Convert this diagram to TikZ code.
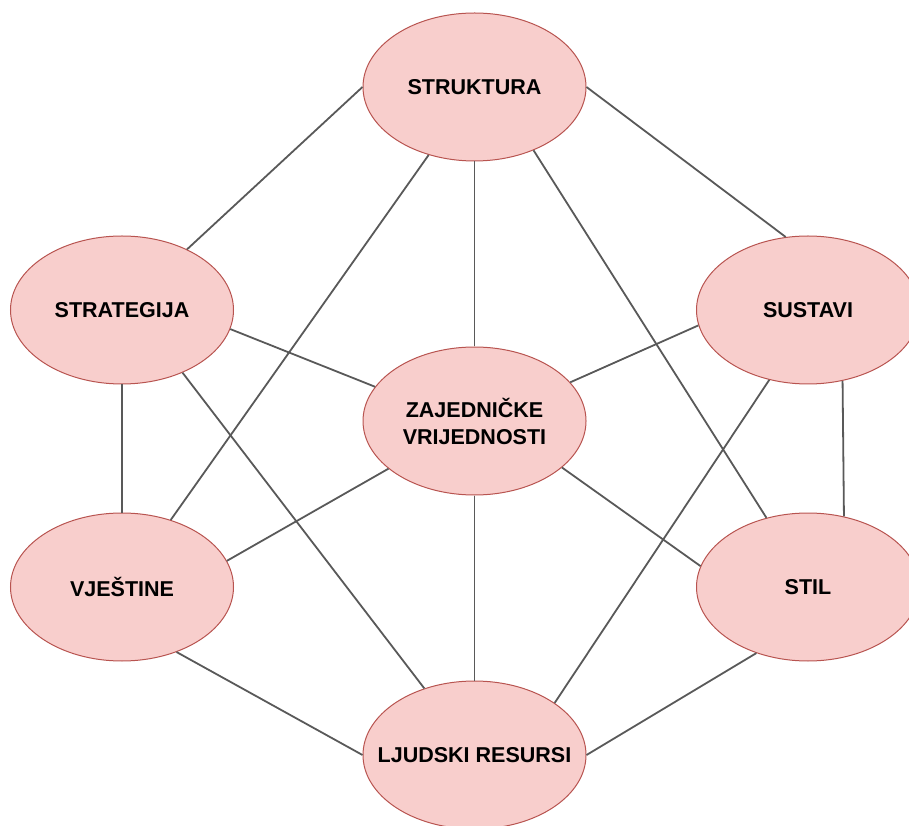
\documentclass[tikz,border=0pt]{standalone}
\usepackage{fontspec}
\setmainfont{Liberation Sans}
\usepackage{xcolor}
\usetikzlibrary{positioning}
\usetikzlibrary{shapes.geometric}
\definecolor{factorfill}{HTML}{F8CECC}
\definecolor{factorline}{HTML}{B85450}
\tikzset{
  factor/.style={ellipse, draw=factorline, fill=factorfill, line width=1pt,
    minimum width=223pt, minimum height=148pt, inner xsep=-50pt, inner ysep=0pt,
    align=center, font=\fontsize{21.5}{27}\selectfont\bfseries},
  link/.style={draw=black!65, line width=1.8pt}
}
\begin{document}
\begin{tikzpicture}[x=1pt,y=1pt,node distance=185pt]
    \useasboundingbox (0,0) rectangle (909,825);
    \node[factor] (zaj) at (474.5,404) {ZAJEDNIČKE\\VRIJEDNOSTI};
    \node[factor] (struktura) [above = of zaj] {STRUKTURA};
    \node[factor] (ljudski) [below = of zaj] {LJUDSKI RESURSI};
    \node[factor] (strategija) at (122,515) {STRATEGIJA};
    \node[factor] (sustavi) at (808,515) {SUSTAVI};
    \node[factor] (vjestine) at (122,238) {VJEŠTINE};
    \node[factor] (stil) at (808,238) {STIL};
    % lines out of the top and the centre
    \draw[link] (struktura.west) edge (strategija.43);
    \draw[link] (struktura.east) edge (sustavi.107.5);
    \draw[link] (struktura.236) edge (vjestine.54.4);
    \draw[link] (struktura.south) edge (zaj.north);
    \draw[link] (struktura.313.4) edge (stil.121.9);
    \draw[link] (strategija.350.5) edge (zaj.161.3);
    \draw[link] (strategija.south) edge (vjestine.north);
    \draw[link] (strategija.314) edge (ljudski.127.6);
    \draw[link] (sustavi.188.8) edge (zaj.22.6);
    \draw[link] (sustavi.241) edge (ljudski.33.5);
    \draw[link] (sustavi.296.6) edge (stil.63.4);
    \draw[link] (zaj.209.5) edge (vjestine.14.2);
    \draw[link] (zaj.332) edge (stil.169.5);
    \draw[link] (zaj.south) edge (ljudski.north);
    % lines into the bottom
    \draw[link] (vjestine.310.6) edge (ljudski.west);
    \draw[link] (stil.232.3) edge (ljudski.east);
\end{tikzpicture}
\end{document}
